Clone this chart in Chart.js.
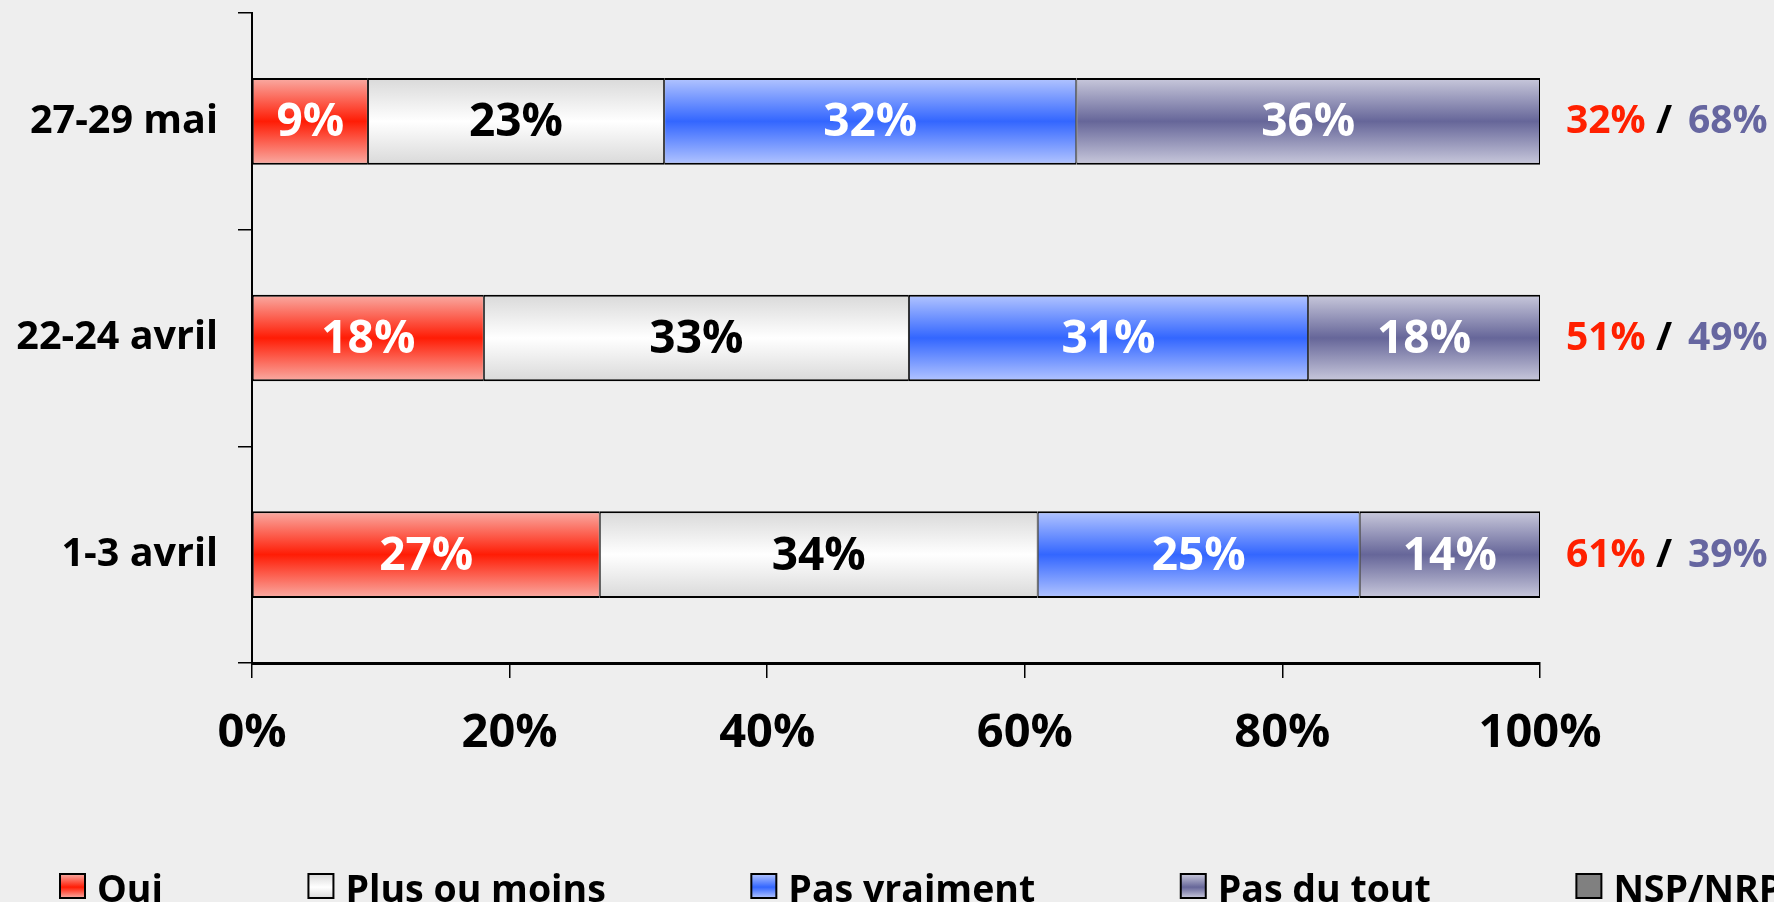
<!DOCTYPE html>
<html>
<head>
<meta charset="utf-8">
<script src="https://cdn.jsdelivr.net/npm/chart.js@4/dist/chart.umd.min.js"></script>
<style>
  html, body { margin: 0; padding: 0; background: #eeeeee; overflow: hidden; }
  #wrap { position: absolute; left: 0; top: 0; width: 1774px; height: 902px; }
</style>
</head>
<body>
<div id="wrap"><canvas id="chart" width="1774" height="902"></canvas></div>
<script>
// données
const categories = ['27-29 mai', '22-24 avril', '1-3 avril'];
const oui = [9, 18, 27];
const plusOuMoins = [23, 33, 34];
const pasVraiment = [32, 31, 25];
const pasDuTout = [36, 18, 14];
const nspNrp = [0, 0, 0];
const seriesNames = ['Oui', 'Plus ou moins', 'Pas vraiment', 'Pas du tout', 'NSP/NRP'];

// couleurs (bord clair, centre foncé)
const lights = ['#f9aca4', '#d9d9d9', '#b3c5ff', '#c9c9dc', '#808080'];
const darks = ['#ff1c05', '#ffffff', '#3366ff', '#666699', '#808080'];
const labelColors = ['#ffffff', '#000000', '#ffffff', '#ffffff', '#ffffff'];
const FONT = '"Open Sans", "Liberation Sans", sans-serif';
const BAR_PCT = 0.4;

function barFill(i) {
    return ctx => {
        const chart = ctx.chart;
        const scale = chart.scales && chart.scales.y;
        if (!chart.chartArea || !scale || ctx.dataIndex === undefined) return darks[i];
        const c = scale.getPixelForValue(ctx.dataIndex);
        const half = (scale.height / categories.length) * BAR_PCT / 2;
        const g = chart.ctx.createLinearGradient(0, c - half, 0, c + half);
        g.addColorStop(0, lights[i]);
        g.addColorStop(0.5, darks[i]);
        g.addColorStop(1, lights[i]);
        return g;
    };
}

// étiquettes dans les barres
const barLabels = {
    id: 'barLabels',
    afterDatasetsDraw(chart) {
        const c = chart.ctx;
        c.save();
        c.font = 'bold 46px ' + FONT;
        c.textAlign = 'center';
        c.textBaseline = 'middle';
        chart.data.datasets.forEach((ds, i) => {
            chart.getDatasetMeta(i).data.forEach((bar, j) => {
                if (!ds.data[j]) return;
                const p = bar.getProps(['x', 'y', 'base'], true);
                c.fillStyle = labelColors[i];
                c.fillText(ds.data[j] + '%', (p.x + p.base) / 2, p.y + 2);
            });
        });
        c.restore();
    }
};

// totaux à droite
const sideTotals = {
    id: 'sideTotals',
    afterDraw(chart) {
        const c = chart.ctx;
        const scale = chart.scales.y;
        const x0 = chart.chartArea.right + 26;
        c.save();
        c.font = 'bold 39px ' + FONT;
        c.textBaseline = 'middle';
        categories.forEach((cat, j) => {
            const y = scale.getPixelForValue(j) + 1;
            c.textAlign = 'left';
            c.fillStyle = '#ff2000';
            c.fillText((oui[j] + plusOuMoins[j]) + '%', x0, y);
            c.fillStyle = '#000000';
            c.textAlign = 'center';
            c.fillText('/', x0 + 98, y);
            c.textAlign = 'left';
            c.fillStyle = '#6666a0';
            c.fillText((pasVraiment[j] + pasDuTout[j]) + '%', x0 + 122, y);
        });
        c.restore();
    }
};

// légende en bas
const bottomLegend = {
    id: 'bottomLegend',
    afterDraw(chart) {
        const c = chart.ctx;
        c.save();
        c.font = 'bold 37.5px ' + FONT;
        c.textBaseline = 'alphabetic';
        c.textAlign = 'left';
        let x = 60;
        const top = 874, h = 24, w = 25;
        chart.data.datasets.forEach((ds, i) => {
            const g = c.createLinearGradient(0, top, 0, top + h);
            g.addColorStop(0, lights[i]);
            g.addColorStop(0.55, darks[i]);
            g.addColorStop(1, lights[i]);
            c.fillStyle = g;
            c.fillRect(x, top, w, h);
            c.lineWidth = 2;
            c.strokeStyle = '#000';
            c.strokeRect(x, top, w, h);
            c.fillStyle = '#000';
            c.fillText(ds.label, x + w + 12, 902);
            x += w + 12 + c.measureText(ds.label).width + 145.5;
        });
        c.restore();
    }
};

const seriesData = [oui, plusOuMoins, pasVraiment, pasDuTout, nspNrp];

function draw() {
    new Chart(document.getElementById('chart'), {
        type: 'bar',
        data: {
            labels: categories,
            datasets: seriesData.map((d, i) => ({
                label: seriesNames[i],
                data: d,
                backgroundColor: barFill(i),
                borderColor: '#000000',
                borderWidth: { top: 2, bottom: 2, left: 1, right: 1 },
                borderSkipped: false,
                barPercentage: BAR_PCT,
                categoryPercentage: 1
            }))
        },
        options: {
            indexAxis: 'y',
            responsive: false,
            animation: false,
            events: [],
            layout: { padding: { left: 0, right: 234, top: 13, bottom: 0 } },
            plugins: { legend: { display: false }, tooltip: { enabled: false } },
            scales: {
                x: {
                    stacked: true,
                    min: 0,
                    max: 100,
                    ticks: {
                        stepSize: 20,
                        color: '#000',
                        padding: 27,
                        font: { family: FONT, size: 47, weight: 'bold' },
                        callback: v => v + '%'
                    },
                    grid: { drawOnChartArea: false, color: '#000', lineWidth: 1.5, tickLength: 15 },
                    border: { color: '#000', width: 3 },
                    afterFit: s => { s.height = 239; s.paddingLeft = 0; s.paddingRight = 0; }
                },
                y: {
                    stacked: true,
                    ticks: {
                        color: '#000',
                        padding: 20,
                        font: { family: FONT, size: 39.5, weight: 'bold' }
                    },
                    grid: { drawOnChartArea: false, color: '#000', lineWidth: 1.5, tickLength: 14 },
                    border: { color: '#000', width: 2 },
                    afterFit: s => { s.width = 252; s.paddingTop = 0; s.paddingBottom = 0; }
                }
            }
        },
        plugins: [barLabels, sideTotals, bottomLegend]
    });
}

document.fonts.load('bold 40px "Open Sans"').then(draw, draw);
</script>
</body>
</html>
